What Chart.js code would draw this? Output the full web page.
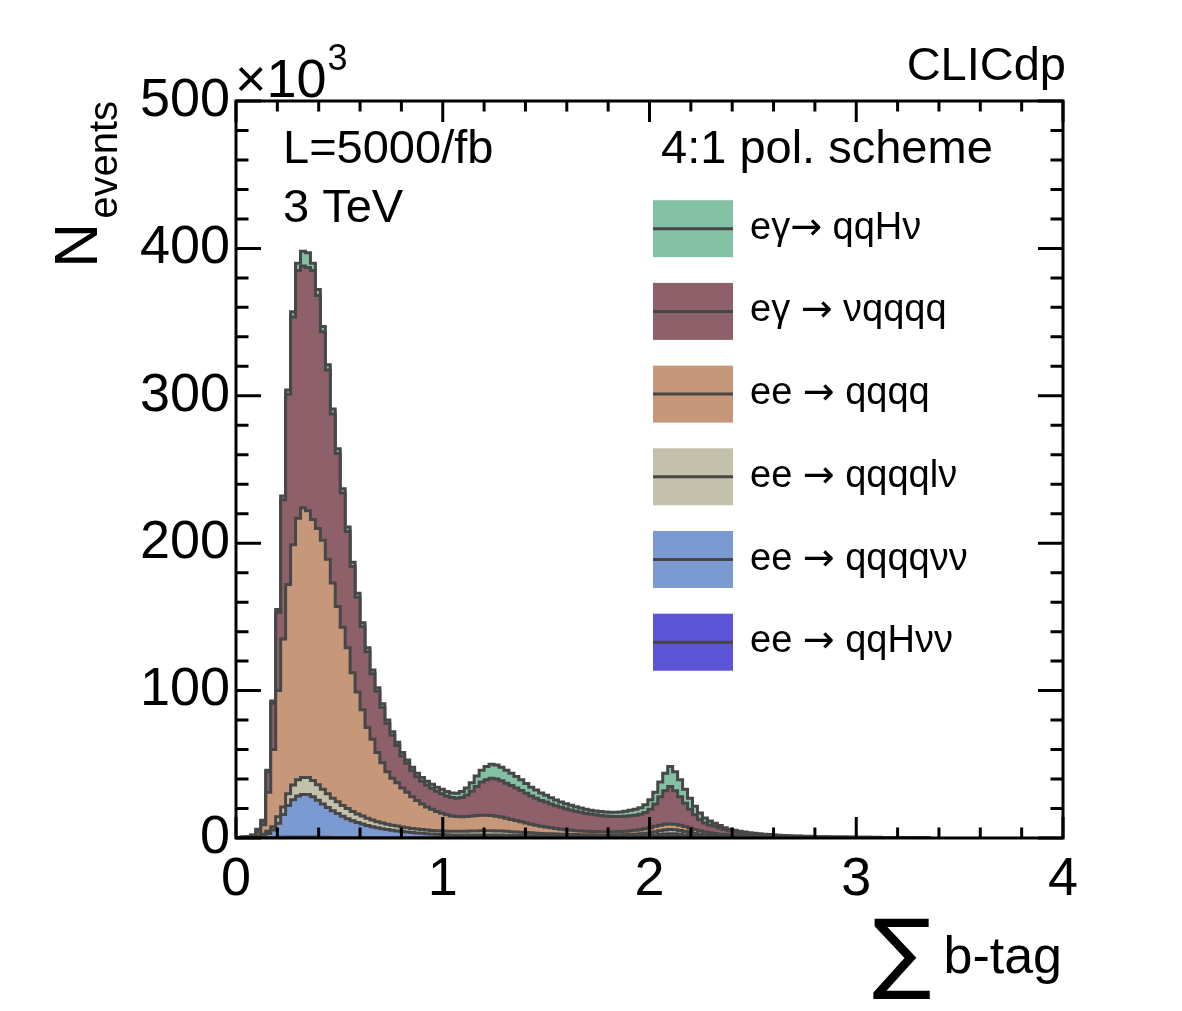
<!DOCTYPE html>
<html>
<head>
<meta charset="utf-8">
<script src="https://cdn.jsdelivr.net/npm/chart.js@4.4.1/dist/chart.umd.min.js"></script>
<style>
html,body{margin:0;padding:0;background:#ffffff;}
#wrap{width:1182px;height:1011px;position:relative;}
canvas{display:block;}
</style>
</head>
<body>
<div id="wrap"><canvas id="c" width="1182" height="1011"></canvas></div>
<script>
// ---------------- data (N events, in units of 10^3, per bin of sum b-tag) ----------------
const binWidth = 0.024;               // width of one histogram bin in "sum b-tag"
const xTickLabels = ['0', '1', '2', '3', '4'];
const yTickLabels = ['0', '100', '200', '300', '400', '500'];

// stack order: bottom -> top
const seriesNames = ['ee \u2192 qqH\u03bd\u03bd', 'ee \u2192 qqqq\u03bd\u03bd', 'ee \u2192 qqqql\u03bd',
                     'ee \u2192 qqqq', 'e\u03b3 \u2192 \u03bdqqqq', 'e\u03b3\u2192 qqH\u03bd'];
const seriesColors = ['#5b54d6', '#7c9ad2', '#c3c1aa', '#c79779', '#8d606a', '#83c1a4'];

const eeToQqHnunu = [
  0, 0, 0, 0, 0.05, 0.1, 0.2, 0.3, 0.4, 0.5,
  0.6, 0.6, 0.6, 0.6, 0.6, 0.6, 0.55, 0.5, 0.45, 0.4,
  0.35, 0.3, 0.3, 0.25, 0.25, 0.25, 0.2, 0.2, 0.2, 0.2,
  0.2, 0.2, 0.2, 0.2, 0.2, 0.2, 0.2, 0.2, 0.2, 0.2,
  0.2, 0.2, 0.2, 0.2, 0.25, 0.3, 0.35, 0.4, 0.45, 0.5,
  0.5, 0.5, 0.5, 0.45, 0.4, 0.35, 0.3, 0.3, 0.25, 0.25,
  0.2, 0.2, 0.2, 0.2, 0.2, 0.2, 0.2, 0.2, 0.2, 0.2,
  0.2, 0.2, 0.2, 0.2, 0.2, 0.2, 0.2, 0.2, 0.25, 0.3,
  0.3, 0.35, 0.4, 0.5, 0.6, 0.8, 0.9, 1.0, 1.0, 0.9,
  0.7, 0.55, 0.4, 0.3, 0.25, 0.2, 0.15, 0.12, 0.1, 0.1,
  0.08, 0.08, 0.07, 0.06, 0.05, 0.05, 0.04, 0.04, 0.03, 0.03,
  0.02, 0.02, 0.02, 0.02, 0.02, 0.02, 0.02, 0.02, 0.02, 0.02,
  0.01, 0.01, 0.01, 0.01, 0.01, 0.01, 0.01, 0.01, 0.01, 0.01,
  0, 0, 0, 0, 0, 0, 0, 0, 0, 0
];
const eeToQqqqNunu = [
  0.05, 0.1, 0.2, 0.5, 0.95, 1.4, 2.8, 5.1, 9.6, 15.5,
  21.4, 25.4, 27.9, 28.9, 28.9, 27.4, 25, 22.5, 20.3, 18.1,
  16.2, 14.4, 12.8, 11.5, 10.3, 9.2, 8.3, 7.5, 6.8, 6.1,
  5.5, 5, 4.6, 4.2, 3.8, 3.5, 3.2, 2.95, 2.7, 2.5,
  2.3, 2.15, 2, 1.9, 1.8, 1.7, 1.65, 1.6, 1.6, 1.6,
  1.6, 1.6, 1.55, 1.55, 1.55, 1.5, 1.45, 1.35, 1.3, 1.2,
  1.2, 1.1, 1.05, 1, 0.95, 0.9, 0.85, 0.8, 0.8, 0.75,
  0.75, 0.75, 0.75, 0.75, 0.75, 0.75, 0.75, 0.8, 0.8, 0.85,
  0.9, 0.95, 1.05, 1.2, 1.4, 1.6, 1.8, 1.9, 1.8, 1.6,
  1.4, 1.25, 1.1, 0.95, 0.8, 0.7, 0.6, 0.53, 0.45, 0.4,
  0.37, 0.32, 0.28, 0.25, 0.22, 0.2, 0.18, 0.16, 0.15, 0.14,
  0.13, 0.12, 0.11, 0.1, 0.1, 0.09, 0.08, 0.08, 0.07, 0.07,
  0.06, 0.06, 0.05, 0.05, 0.05, 0.04, 0.04, 0.04, 0.03, 0.03,
  0.03, 0.03, 0.02, 0.02, 0.02, 0.02, 0.02, 0.01, 0.01, 0.01
];
const eeToQqqqLnu = [
  0.05, 0.1, 0.2, 0.3, 0.5, 1, 1.5, 2.3, 4.5, 5,
  8, 10, 11, 11.5, 11.5, 11, 10.5, 10, 9.3, 8.5,
  8, 7.3, 6.9, 6.3, 5.8, 5.4, 4.9, 4.5, 4.1, 3.9,
  3.7, 3.5, 3.3, 3.1, 3, 2.8, 2.7, 2.55, 2.5, 2.4,
  2.4, 2.35, 2.4, 2.4, 2.45, 2.5, 2.6, 2.7, 2.75, 2.8,
  2.8, 2.8, 2.75, 2.7, 2.55, 2.45, 2.35, 2.25, 2.15, 2.05,
  1.9, 1.8, 1.7, 1.6, 1.55, 1.5, 1.45, 1.4, 1.3, 1.3,
  1.25, 1.2, 1.15, 1.15, 1.15, 1.15, 1.2, 1.2, 1.25, 1.35,
  1.4, 1.5, 1.65, 1.9, 2.2, 2.5, 2.8, 2.9, 2.8, 2.6,
  2.3, 1.9, 1.6, 1.35, 1.05, 0.9, 0.75, 0.65, 0.55, 0.5,
  0.45, 0.4, 0.35, 0.3, 0.25, 0.25, 0.2, 0.2, 0.18, 0.15,
  0.15, 0.12, 0.12, 0.1, 0.1, 0.1, 0.08, 0.08, 0.07, 0.07,
  0.06, 0.06, 0.05, 0.05, 0.05, 0.04, 0.04, 0.04, 0.03, 0.03,
  0.03, 0.03, 0.02, 0.02, 0.02, 0.02, 0.02, 0.01, 0.01, 0.01
];
const eeToQqqq = [
  0.1, 0.2, 0.3, 0.7, 2.5, 6.5, 26.5, 52.3, 85.5, 114,
  142, 163, 177.5, 183, 181, 177, 174, 169, 159, 146,
  132.5, 121, 109, 94, 82.7, 72.2, 61.6, 54.8, 46.9, 40.8,
  35.6, 31.9, 29.3, 26.5, 24, 21.5, 19.4, 17.3, 15.6, 14.4,
  13.1, 12.1, 11.2, 10.5, 10.1, 10, 10, 10.2, 10.4, 10.5,
  10.5, 10.3, 10, 9.5, 8.9, 8.3, 7.7, 7.1, 6.5, 5.9,
  5.4, 4.9, 4.45, 4.1, 3.7, 3.4, 3.1, 2.9, 2.7, 2.55,
  2.4, 2.25, 2.2, 2.1, 2.1, 2.1, 2.15, 2.2, 2.3, 2.45,
  2.6, 2.8, 3.1, 3.4, 3.7, 3.8, 3.8, 3.7, 3.7, 3.6,
  3.4, 3.1, 2.7, 2.3, 2, 1.7, 1.5, 1.3, 1.2, 1,
  0.9, 0.8, 0.7, 0.65, 0.55, 0.5, 0.45, 0.4, 0.35, 0.35,
  0.3, 0.3, 0.25, 0.25, 0.2, 0.2, 0.2, 0.15, 0.15, 0.15,
  0.1, 0.1, 0.1, 0.1, 0.1, 0.1, 0.1, 0.1, 0.1, 0.1,
  0.08, 0.08, 0.07, 0.07, 0.06, 0.06, 0.05, 0.05, 0.04, 0.04
];
const egToNuqqqq = [
  0.1, 0.2, 0.3, 0.4, 1.8, 2.6, 14, 31.5, 53, 94.5,
  129, 154.5, 168, 164, 165, 169, 158, 141.5, 128.5, 114.7,
  103.8, 91, 79, 72.1, 64.2, 56.3, 51.4, 44.5, 41.5, 37.6,
  32.6, 29.1, 25.3, 21.7, 19.7, 17.6, 16.1, 15.5, 14.9, 14.3,
  13.7, 13.3, 12.7, 12.4, 12.3, 13, 14.6, 16.8, 19.8, 22.6,
  24.1, 25.3, 25.2, 24.6, 23.8, 23.1, 22.1, 21.3, 20.2, 19.1,
  18.3, 17.5, 17, 16.2, 15.5, 14.8, 14.2, 13.7, 13.2, 12.6,
  12.1, 11.8, 11.4, 11.1, 10.8, 10.5, 10.3, 10.2, 10.2, 10.2,
  10.3, 10.5, 11.1, 12.5, 15.1, 19.3, 22.7, 25.5, 22.7, 19.3,
  15.7, 12.7, 9.9, 7.7, 6, 5.4, 5, 4.2, 3.4, 2.9,
  2.5, 2.2, 1.9, 1.75, 1.6, 1.45, 1.3, 1.25, 1.1, 0.95,
  0.85, 0.7, 0.7, 0.65, 0.6, 0.55, 0.55, 0.5, 0.5, 0.45,
  0.45, 0.4, 0.4, 0.35, 0.35, 0.3, 0.3, 0.28, 0.25, 0.25,
  0.22, 0.2, 0.2, 0.18, 0.16, 0.15, 0.14, 0.12, 0.1, 0.1
];
const egToQqHnu = [
  0, 0, 0, 0.1, 0.2, 0.4, 1, 1.5, 2, 2.5,
  3, 3.5, 5, 10, 10, 5, 4, 3.5, 3.5, 3.3,
  3.2, 3, 3, 2.9, 2.8, 2.7, 2.6, 2.5, 2.5, 2.4,
  2.4, 2.3, 2.3, 2.3, 2.3, 2.4, 2.4, 2.5, 2.6, 2.7,
  2.8, 2.9, 3, 3.2, 3.5, 4, 4.8, 5.8, 7, 8,
  9, 9.5, 9.5, 9.2, 8.8, 8.3, 7.8, 7.2, 6.6, 6,
  5.5, 5, 4.6, 4.2, 3.9, 3.6, 3.4, 3.2, 3, 2.9,
  2.8, 2.7, 2.7, 2.7, 2.7, 2.8, 2.9, 3.1, 3.3, 3.6,
  4, 4.5, 5.3, 6.5, 8, 10, 12, 13.5, 13, 11.5,
  9.5, 7.5, 5.8, 4.4, 3.4, 2.6, 2, 1.6, 1.3, 1.1,
  0.9, 0.8, 0.7, 0.6, 0.5, 0.45, 0.4, 0.35, 0.3, 0.3,
  0.25, 0.25, 0.2, 0.2, 0.2, 0.15, 0.1, 0.1, 0.1, 0.1,
  0.08, 0.08, 0.07, 0.07, 0.06, 0.06, 0.05, 0.05, 0.05, 0.04,
  0.04, 0.04, 0.03, 0.03, 0.03, 0.02, 0.02, 0.02, 0.01, 0.01
];
const seriesValues = [eeToQqHnunu, eeToQqqqNunu, eeToQqqqLnu, eeToQqqq, egToNuqqqq, egToQqHnu];

// ---------------- chart ----------------
const FONT = "'Liberation Sans', Arial, Helvetica, sans-serif";
const ARROW_FONT = "'DejaVu Sans', sans-serif";
const OUTLINE = '#474747';

function histPoints(vals) {
  const pts = vals.map((v, i) => ({ x: i * binWidth, y: v }));
  pts.push({ x: vals.length * binWidth, y: vals[vals.length - 1] });
  return pts;
}

const datasets = seriesValues.map((vals, i) => ({
  label: seriesNames[i],
  data: histPoints(vals),
  backgroundColor: seriesColors[i],
  borderColor: OUTLINE,
  borderWidth: 3,
  fill: i === 0 ? 'origin' : '-1',
  stepped: 'before',
  pointRadius: 0,
  tension: 0
}));

function drawLabel(ctx, text, x, y, size) {
  // letters in Liberation Sans, the arrow in DejaVu Sans (wider, like the original)
  const parts = text.split('\u2192');
  let cx = x;
  ctx.textAlign = 'left';
  for (let i = 0; i < parts.length; i++) {
    ctx.font = `${size}px ${FONT}`;
    ctx.fillText(parts[i], cx, y);
    cx += ctx.measureText(parts[i]).width;
    if (i < parts.length - 1) {
      ctx.font = `${size}px ${ARROW_FONT}`;
      ctx.fillText('\u2192', cx, y);
      cx += ctx.measureText('\u2192').width;
    }
  }
}

const decor = {
  id: 'decor',
  afterDatasetsDraw(chart) {
    const { ctx, chartArea: a, scales } = chart;
    const xs = scales.x, ys = scales.y;
    ctx.save();
    ctx.strokeStyle = '#000';
    ctx.lineWidth = 3;
    ctx.lineCap = 'butt';
    ctx.beginPath();
    for (let i = 0; i <= 25; i++) {
      const py = ys.getPixelForValue(i * 20);
      const L = (i % 5 === 0) ? 25 : 12.5;
      ctx.moveTo(a.left, py); ctx.lineTo(a.left + L, py);
      ctx.moveTo(a.right, py); ctx.lineTo(a.right - L, py);
    }
    for (let i = 0; i <= 20; i++) {
      const px = xs.getPixelForValue(i * 0.2);
      const L = (i % 5 === 0) ? 21 : 10.5;
      ctx.moveTo(px, a.bottom); ctx.lineTo(px, a.bottom - L);
      ctx.moveTo(px, a.top); ctx.lineTo(px, a.top + L);
    }
    ctx.stroke();
    ctx.strokeRect(a.left, a.top, a.right - a.left, a.bottom - a.top);
    ctx.restore();
  },
  afterDraw(chart) {
    const { ctx, chartArea: a } = chart;
    ctx.save();
    ctx.fillStyle = '#000';
    ctx.textBaseline = 'alphabetic';

    // x10^3 multiplier
    ctx.textAlign = 'left';
    ctx.font = `54px ${FONT}`;
    ctx.fillText('\u00d710', a.left - 1, 97);
    const w10 = ctx.measureText('\u00d710').width;
    ctx.font = `36px ${FONT}`;
    ctx.fillText('3', a.left - 1 + w10 + 1, 70);

    // CLICdp label
    ctx.textAlign = 'right';
    ctx.font = `47px ${FONT}`;
    ctx.fillText('CLICdp', 1066, 80);

    // in-plot annotations
    ctx.textAlign = 'left';
    ctx.fillText('L=5000/fb', 283, 163);
    ctx.fillText('3 TeV', 283, 222);
    ctx.fillText('4:1 pol. scheme', 661, 163);

    // y title  N_events (rotated)
    ctx.save();
    ctx.translate(97, a.top);
    ctx.rotate(-Math.PI / 2);
    ctx.textAlign = 'right';
    ctx.font = `40px ${FONT}`;
    ctx.fillText('events', 0, 20);
    const we = ctx.measureText('events').width;
    ctx.font = `62px ${FONT}`;
    ctx.fillText('N', -we - 4, 0);
    ctx.restore();

    // x title  sum b-tag
    ctx.textAlign = 'left';
    ctx.font = `52px ${FONT}`;
    const wb = ctx.measureText('b-tag').width;
    ctx.fillText('b-tag', 1062 - wb, 973);
    ctx.font = `88px ${ARROW_FONT}`;
    ctx.textAlign = 'right';
    ctx.fillText('\u2211', 1062 - wb - 12, 982);

    // legend (top -> bottom = stack top -> bottom)
    const n = seriesNames.length;
    for (let k = 0; k < n; k++) {
      const idx = n - 1 - k;
      const cy = 228.7 + 82.7 * k;
      ctx.fillStyle = seriesColors[idx];
      ctx.fillRect(653, cy - 28.5, 80, 57);
      ctx.strokeStyle = OUTLINE;
      ctx.lineWidth = 3;
      ctx.beginPath();
      ctx.moveTo(653, cy); ctx.lineTo(733, cy);
      ctx.stroke();
      ctx.fillStyle = '#000';
      drawLabel(ctx, seriesNames[idx], 750, cy + 10, 38);
    }
    ctx.restore();
  }
};

new Chart(document.getElementById('c'), {
  type: 'line',
  data: { datasets },
  options: {
    responsive: false,
    animation: false,
    devicePixelRatio: 1,
    layout: { padding: { left: 136, right: 119, top: 101, bottom: 103 } },
    plugins: { legend: { display: false }, tooltip: { enabled: false }, title: { display: false } },
    scales: {
      x: {
        type: 'linear', min: 0, max: 4,
        grid: { display: false, drawTicks: false },
        border: { display: false },
        ticks: {
          stepSize: 1, autoSkip: false, maxRotation: 0, padding: 10, color: '#000',
          font: { family: FONT, size: 54 },
          callback: (v) => xTickLabels[Math.round(v)]
        },
        afterFit: (s) => { s.height = 70; }
      },
      y: {
        type: 'linear', min: 0, max: 500, stacked: true,
        grid: { display: false, drawTicks: false },
        border: { display: false },
        ticks: {
          stepSize: 100, autoSkip: false, padding: 6, color: '#000',
          font: { family: FONT, size: 54 },
          callback: (v) => yTickLabels[Math.round(v / 100)]
        },
        afterFit: (s) => { s.width = 100; }
      }
    }
  },
  plugins: [decor]
});
</script>
</body>
</html>
